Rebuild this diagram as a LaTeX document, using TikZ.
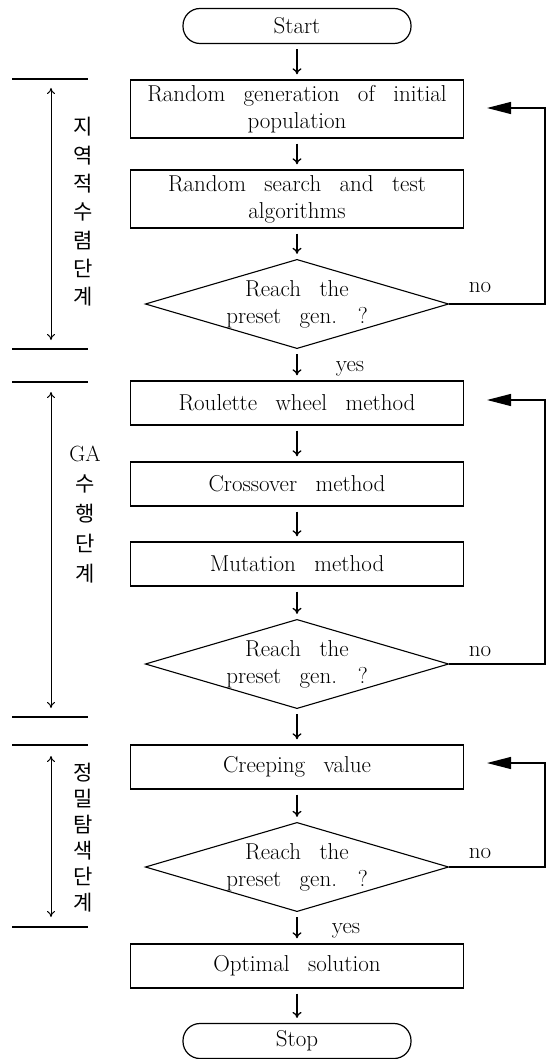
\documentclass[tikz,border=0pt]{standalone}
\usepackage{fontspec}
\newfontfamily\kr{Noto Sans CJK KR}
\usetikzlibrary{shapes.geometric,arrows.meta,calc}
\newcommand\mainfnt{\fontsize{23}{27}\selectfont\spaceskip=0.8em plus 0.1em\relax}
\begin{document}
\begin{tikzpicture}[x=1pt,y=-1pt,
  every node/.style={font=\mainfnt},
  proc/.style={draw,line width=1.4pt,minimum width=333pt,minimum height=44pt,inner sep=0pt,align=center},
  term/.style={draw,line width=1.2pt,rounded corners=17pt,minimum width=228pt,minimum height=35pt,inner sep=0pt},
  dec/.style={draw,line width=1.1pt,diamond,aspect=3.4,minimum width=302pt,minimum height=89pt,inner sep=0pt,align=center},
  flow/.style={line width=1.3pt,-{To[length=6pt,width=9pt]},shorten >=5pt,shorten <=5pt},
  fb/.style={line width=1.2pt,-{Triangle[length=24pt,width=12pt]}},
  bar/.style={line width=1.2pt},
  span/.style={line width=1pt,{To[length=6pt,width=8pt]}-{To[length=6pt,width=8pt]}},
  lbl/.style={inner sep=0pt},
]
\useasboundingbox (0,0) rectangle (551,1059);

% main column
\node[term] (start) at (297,26) {Start};
\node[proc,minimum height=58pt] (b1) at (297,109) {Random generation of initial\\population};
\node[proc,minimum height=58pt] (b2) at (297,199) {Random search and test\\algorithms};
\node[dec] (d1) at (297,304) {Reach the\\preset gen. ?};
\node[proc] (b3) at (297,403) {Roulette wheel method};
\node[proc] (b4) at (297,484) {Crossover method};
\node[proc] (b5) at (297,564) {Mutation method};
\node[dec] (d2) at (297,664) {Reach the\\preset gen. ?};
\node[proc] (b6) at (297,767) {Creeping value};
\node[dec] (d3) at (297,867) {Reach the\\preset gen. ?};
\node[proc] (b7) at (297,966) {Optimal solution};
\node[term] (stop) at (297,1041) {Stop};

% flow arrows
\draw[flow] (start) -- (b1);
\draw[flow] (b1) -- (b2);
\draw[flow] (b2) -- (d1);
\draw[flow] (d1) -- (b3);
\draw[flow] (b3) -- (b4);
\draw[flow] (b4) -- (b5);
\draw[flow] (b5) -- (d2);
\draw[flow] (d2) -- (b6);
\draw[flow] (b6) -- (d3);
\draw[flow] (d3) -- (b7);
\draw[flow] (b7) -- (stop);

\node[lbl,anchor=base] (y1) at (350,371) {yes};
\node[lbl,anchor=base] (y2) at (346,933) {yes};

% feedback loops
\coordinate (c1) at (545,108);
\coordinate (t1) at (487,108);
\coordinate (c2) at (545,400);
\coordinate (t2) at (487,400);
\coordinate (c3) at (545,763);
\coordinate (t3) at (487,763);
\draw[fb] (d1.east) -| (c1) -- (t1);
\draw[fb] (d2.east) -| (c2) -- (t2);
\draw[fb] (d3.east) -| (c3) -- (t3);
\node[lbl] (n1) at (480,288) {no};
\node[lbl] (n2) at (480,652) {no};
\node[lbl] (n3) at (480,853) {no};

% phase brackets
\coordinate (p1a) at (12,79);  \coordinate (p1b) at (88,79);
\coordinate (p1c) at (12,349); \coordinate (p1d) at (88,349);
\coordinate (p1u) at (51,88);  \coordinate (p1v) at (51,340);
\draw[bar] (p1a) -- (p1b);
\draw[bar] (p1c) -- (p1d);
\draw[span] (p1u) -- (p1v);
\node[lbl,align=center,font=\kr\fontsize{21}{28.3}\selectfont] (k1) at (83,212) {지\\역\\적\\수\\렴\\단\\계};

\coordinate (p2a) at (12,382);  \coordinate (p2b) at (88,382);
\coordinate (p2c) at (12,717);  \coordinate (p2d) at (88,717);
\coordinate (p2u) at (51,392);  \coordinate (p2v) at (51,708);
\draw[bar] (p2a) -- (p2b);
\draw[bar] (p2c) -- (p2d);
\draw[span] (p2u) -- (p2v);
\node[lbl,align=center,font=\kr\fontsize{21}{30}\selectfont] (k2) at (85,515) {{\rmfamily\fontsize{22}{30}\selectfont GA}\\수\\행\\단\\계};

\coordinate (p3a) at (12,745);  \coordinate (p3b) at (88,745);
\coordinate (p3c) at (12,927);  \coordinate (p3d) at (88,927);
\coordinate (p3u) at (51,756);  \coordinate (p3v) at (51,917);
\draw[bar] (p3a) -- (p3b);
\draw[bar] (p3c) -- (p3d);
\draw[span] (p3u) -- (p3v);
\node[lbl,align=center,font=\kr\fontsize{21}{26}\selectfont] (k3) at (83,838) {정\\밀\\탐\\색\\단\\계};
\end{tikzpicture}
\end{document}
